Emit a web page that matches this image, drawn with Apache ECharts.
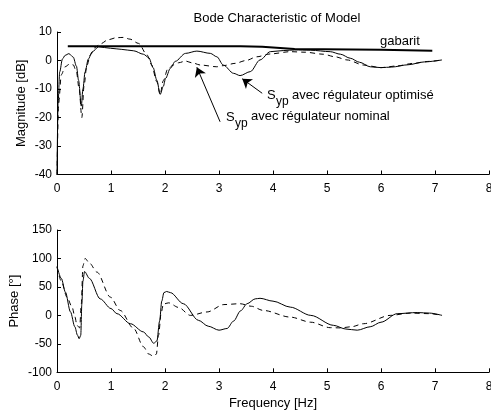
<!DOCTYPE html>
<html>
<head>
<meta charset="utf-8">
<script src="https://cdn.jsdelivr.net/npm/echarts@6/dist/echarts.min.js"></script>
<style>
  html, body { margin: 0; padding: 0; background: #fff; }
  #chart { width: 491px; height: 412px; }
</style>
</head>
<body>
<div id="chart"></div>
<script>
// magnitude, regulateur optimise (solid)
const magOptFreq = [0, 0.02, 0.05, 0.1, 0.15, 0.22, 0.3, 0.36, 0.4, 0.45, 0.48, 0.52, 0.58, 0.65, 0.77, 0.99, 1.2, 1.42, 1.6, 1.7, 1.78, 1.85, 1.91, 1.97, 2.01, 2.1, 2.19, 2.38, 2.59, 2.84, 2.96, 3.08, 3.27, 3.39, 3.58, 3.76, 3.95, 4.2, 4.4, 4.7, 5.06, 5.25, 5.43, 5.6, 5.8, 6.0, 6.2, 6.5, 6.8, 7.13];
const magOpt = [-40, -15, -4, 0.5, 1.8, 2.4, 1.2, -2, -7, -16, -10, -4, 0.5, 3, 4.8, 4.3, 3.9, 3.4, 2.2, 1.0, -2.5, -7, -11.9, -9, -6.3, -2.7, -0.3, 2.5, 3.3, 2.5, 1.3, -1.6, -4.5, -5.3, -3.9, 0.2, 3.1, 3.5, 3.7, 3.6, 3.1, 2.2, 0.8, -0.6, -2.2, -2.5, -2.3, -1.5, -0.5, 0.2];

// magnitude, regulateur nominal (dashed)
const magNomFreq = [0, 0.03, 0.08, 0.15, 0.23, 0.3, 0.36, 0.41, 0.46, 0.5, 0.55, 0.62, 0.7, 0.8, 0.95, 1.1, 1.23, 1.35, 1.51, 1.67, 1.75, 1.85, 1.91, 1.97, 2.05, 2.15, 2.25, 2.38, 2.5, 2.66, 2.96, 3.08, 3.3, 3.5, 3.7, 3.95, 4.32, 4.6, 4.93, 5.15, 5.37, 5.68, 6.0, 6.3, 6.6, 6.9, 7.13];
const magNom = [-40, -15, -5, -2.2, -1.3, -1.5, -4, -10, -20, -9, -2, 2, 4.5, 5.8, 7.3, 8, 8.1, 7.5, 6.0, 1.9, -1.5, -7.5, -11.9, -7, -3, -1.6, -0.8, -0.2, -0.8, -1.6, -2.2, -1.8, -1, 0, 1.3, 2.3, 3.1, 2.9, 2.2, 1.3, 0.2, -1.6, -2.5, -1.9, -1, -0.3, 0.2];

// gabarit
const gabFreq = [0.2, 3.4, 3.8, 4.4, 6.0, 6.95];
const gab = [5, 5, 4.8, 4.0, 3.8, 3.4];

// phase, optimise (solid)
const phOptFreq = [0, 0.08, 0.155, 0.25, 0.33, 0.38, 0.41, 0.44, 0.46, 0.48, 0.51, 0.6, 0.8, 1.0, 1.11, 1.36, 1.6, 1.7, 1.79, 1.85, 1.9, 1.94, 1.98, 2.03, 2.1, 2.34, 2.62, 2.8, 3.0, 3.15, 3.27, 3.4, 3.52, 3.67, 3.76, 4.0, 4.32, 4.7, 5.12, 5.35, 5.56, 5.8, 6.0, 6.3, 6.67, 6.9, 7.13];
const phOpt = [86, 65, 41, 6, -20, -35, -41, -35, 20, 60, 77, 65, 29, 12, 3, -14.6, -29, -38, -49, -45, -10, 25, 40, 42, 40, 20.5, -8.7, -19, -26, -23, -10, 8, 20.5, 29, 30, 25, 14.5, 0, -17.5, -24, -26, -20, -12, 3, 5, 4, 0];

// phase, nominal (dashed)
const phNomFreq = [0, 0.08, 0.185, 0.28, 0.33, 0.37, 0.42, 0.45, 0.48, 0.52, 0.6, 0.74, 0.99, 1.17, 1.42, 1.6, 1.7, 1.79, 1.84, 1.88, 1.93, 1.97, 2.07, 2.25, 2.47, 2.78, 3.09, 3.39, 3.6, 3.82, 4.32, 4.7, 5.06, 5.25, 5.45, 5.68, 6.17, 6.54, 6.9, 7.13];
const phNom = [85, 60, 32, 14.5, -2, -17.5, -22, 20, 87, 100, 92, 76, 32, 8.7, -23, -55, -68, -72, -68, -35, 5, 20, 22, 14, 0, 6, 19, 20.5, 16, 8.7, -3, -12, -21.6, -22, -20, -14.6, 0, 4, 3, 0];

const freqTicks = [0, 1, 2, 3, 4, 5, 6, 7, 8];
const magTicks = [-40, -30, -20, -10, 0, 10];
const phaseTicks = [-100, -50, 0, 50, 100, 150];

const FONT = "'Liberation Sans', Arial, sans-serif";

function pairs (xs, ys) {
	return xs.map(function (x, i) { return [x, ys[i]]; });
}

function xAxisCfg (idx, name) {
	return {
		type: 'value',
		gridIndex: idx,
		min: freqTicks[0],
		max: freqTicks[freqTicks.length - 1],
		interval: 1,
		name: name,
		nameLocation: 'middle',
		nameGap: 25,
		nameMoveOverlap: false,
		nameTextStyle: { color: '#000', fontSize: 13, fontFamily: FONT },
		axisLine: { onZero: false, lineStyle: { color: '#000', width: 1 } },
		axisTick: { inside: true, length: 4, lineStyle: { color: '#000' } },
		axisLabel: { color: '#000', fontSize: 12, fontFamily: FONT, margin: 8 },
		splitLine: { show: false }
	};
}

function yAxisCfg (idx, ticks, name, gap) {
	return {
		type: 'value',
		gridIndex: idx,
		min: ticks[0],
		max: ticks[ticks.length - 1],
		interval: ticks[1] - ticks[0],
		name: name,
		nameLocation: 'middle',
		nameGap: gap,
		nameMoveOverlap: false,
		nameTextStyle: { color: '#000', fontSize: 13, fontFamily: FONT },
		axisLine: { show: true, onZero: false, lineStyle: { color: '#000', width: 1 } },
		axisTick: { show: true, inside: true, length: 4, lineStyle: { color: '#000' } },
		axisLabel: { color: '#000', fontSize: 12, fontFamily: FONT, margin: 5 },
		splitLine: { show: false }
	};
}

function lineSeries (xi, data, dashed, width) {
	return {
		type: 'line',
		xAxisIndex: xi,
		yAxisIndex: xi,
		data: data,
		showSymbol: false,
		smooth: 0.3,
		smoothMonotone: 'x',
		lineStyle: { color: '#000', width: width || 1, type: dashed ? [5, 4] : 'solid' },
		animation: false
	};
}

function arrow (from, to) {
	return {
		silent: true,
		symbol: ['none', 'arrow'],
		symbolSize: 9,
		label: { show: false },
		lineStyle: { color: '#000', width: 1, type: 'solid' },
		itemStyle: { color: '#000' },
		animation: false,
		data: [[{ coord: from }, { coord: to }]]
	};
}

const myChart = echarts.init(document.getElementById('chart'), null, { renderer: 'canvas' });

const magOptSeries = lineSeries(0, pairs(magOptFreq, magOpt), false);
magOptSeries.markLine = arrow([3.80, -11.5], [3.43, -6.4]);
const magNomSeries = lineSeries(0, pairs(magNomFreq, magNom), true);
magNomSeries.markLine = arrow([3.02, -21.5], [2.59, -2.4]);
const gabSeries = lineSeries(0, pairs(gabFreq, gab), false, 2);
gabSeries.smooth = false;

const txt = function (x, y, text, size) {
	return {
		type: 'text',
		x: x,
		y: y,
		silent: true,
		style: {
			text: text,
			fill: '#000',
			font: (size || 13) + 'px ' + FONT,
			textVerticalAlign: 'middle'
		}
	};
};

const option = {
	backgroundColor: '#fff',
	animation: false,
	title: {
		text: 'Bode Characteristic of Model',
		left: 272,
		top: 7,
		textAlign: 'center',
		textStyle: { color: '#000', fontSize: 13, fontWeight: 'normal', fontFamily: FONT }
	},
	grid: [
		{ left: 57, right: 2, top: 32, height: 142.5, outerBoundsMode: 'none' },
		{ left: 57, right: 2, top: 230, height: 142.3, outerBoundsMode: 'none' }
	],
	xAxis: [xAxisCfg(0, ''), xAxisCfg(1, 'Frequency [Hz]')],
	yAxis: [yAxisCfg(0, magTicks, 'Magnitude [dB]', 29), yAxisCfg(1, phaseTicks, 'Phase [°]', 36)],
	series: [
		gabSeries,
		magOptSeries,
		magNomSeries,
		lineSeries(1, pairs(phOptFreq, phOpt), false),
		lineSeries(1, pairs(phNomFreq, phNom), true)
	],
	graphic: [
		txt(380, 41, 'gabarit'),
		txt(267, 95, 'S'),
		txt(276, 102, 'yp', 12),
		txt(292, 95, 'avec régulateur optimisé'),
		txt(226, 117, 'S'),
		txt(235, 124, 'yp', 12),
		txt(251, 116, 'avec régulateur nominal')
	]
};

myChart.setOption(option);
</script>
</body>
</html>
